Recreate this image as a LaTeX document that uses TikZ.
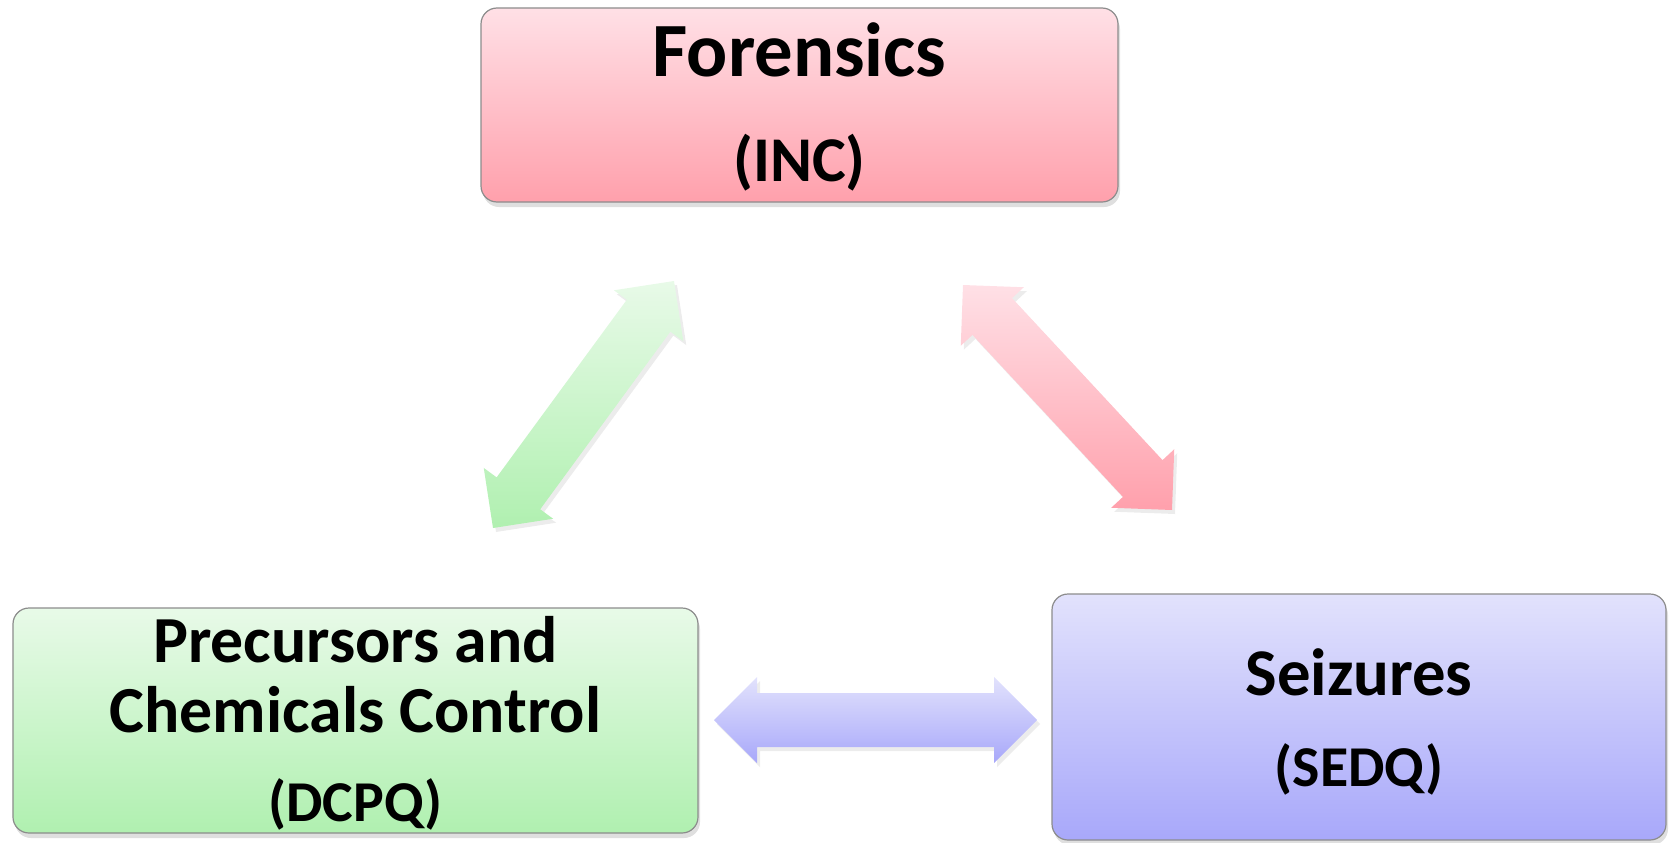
\documentclass[tikz,border=0pt]{standalone}
\usepackage{fontspec}
\setmainfont{Carlito}
\usepackage{tikz}
\newcommand{\headlen}{43bp}
\newcommand{\headwd}{43bp}
\newcommand{\shaftwd}{27bp}
\newcommand{\padtop}[2]{\raisebox{0pt}[\dimexpr\height+#1\relax]{#2}}
\definecolor{boxGrey}{RGB}{140,140,140}
\definecolor{pinkTop}{RGB}{255,224,230}
\definecolor{pinkBot}{RGB}{255,160,172}
\definecolor{greenTop}{RGB}{232,250,232}
\definecolor{greenBot}{RGB}{176,240,176}
\definecolor{blueTop}{RGB}{226,226,252}
\definecolor{blueBot}{RGB}{168,168,250}
\usetikzlibrary{calc,shadows,positioning}
\tikzset{
  font=\bfseries,
  box/.style={draw=boxGrey,line width=1.2bp,shape=rectangle,rounded corners=16bp,align=center,inner sep=0,
    drop shadow={opacity=0.25,shadow xshift=2bp,shadow yshift=-5bp}},
  link/.style={drop shadow={opacity=0.15,shadow xshift=3bp,shadow yshift=-4bp}},
}
% double headed arrow between two named points
\newcommand{\twoway}[3]{%
  \coordinate (#1h) at ($(#1)!\headlen!(#2)$);
  \coordinate (#2h) at ($(#2)!\headlen!(#1)$);
  \path[link,#3] (#1)
    -- ($(#1h)!\headwd!90:(#2)$) -- ($(#1h)!\shaftwd!90:(#2)$)
    -- ($(#2h)!\shaftwd!-90:(#1)$) -- ($(#2h)!\headwd!-90:(#1)$)
    -- (#2)
    -- ($(#2h)!\headwd!90:(#1)$) -- ($(#2h)!\shaftwd!90:(#1)$)
    -- ($(#1h)!\shaftwd!-90:(#2)$) -- ($(#1h)!\headwd!-90:(#2)$)
    -- cycle;
}

\begin{document}
\begin{tikzpicture}[x=1bp,y=-1bp]
  \useasboundingbox (0,0) rectangle (1669,842);
  \node (forensics) [box,top color=pinkTop,bottom color=pinkBot,minimum width=637bp,minimum height=194bp,
    font=\bfseries\fontsize{64}{105}\selectfont] at (799.5,105)
    {\padtop{4bp}{\fontsize{77}{0}\selectfont Forensics}\\(INC)};
  \node (precursors) [box,top color=greenTop,bottom color=greenBot,minimum width=685bp,minimum height=225bp,
    font=\bfseries\fontsize{66}{70}\selectfont] at (355.5,720.5)
    {\padtop{6bp}{Precursors and}\\Chemicals Control\\[19bp]{\fontsize{58}{0}\selectfont (DCPQ)}};
  \node (seizures) [box,top color=blueTop,bottom color=blueBot,minimum width=614bp,minimum height=246bp,
    font=\bfseries\fontsize{58}{92}\selectfont] at (1359,717)
    {\padtop{10bp}{\fontsize{67}{0}\selectfont Seizures}\\(SEDQ)};
  % arrow ends
  \coordinate (gTop) at (674,281);
  \coordinate (gBot) at (493,528);
  \coordinate (rTop) at (963,285);
  \coordinate (rBot) at (1172,510);
  \coordinate (bLeft) at (714,720);
  \coordinate (bRight) at (1037,720);
  \twoway{gTop}{gBot}{top color=greenTop,bottom color=greenBot}
  \twoway{rTop}{rBot}{top color=pinkTop,bottom color=pinkBot}
  \twoway{bLeft}{bRight}{top color=blueTop,bottom color=blueBot}
\end{tikzpicture}
\end{document}
